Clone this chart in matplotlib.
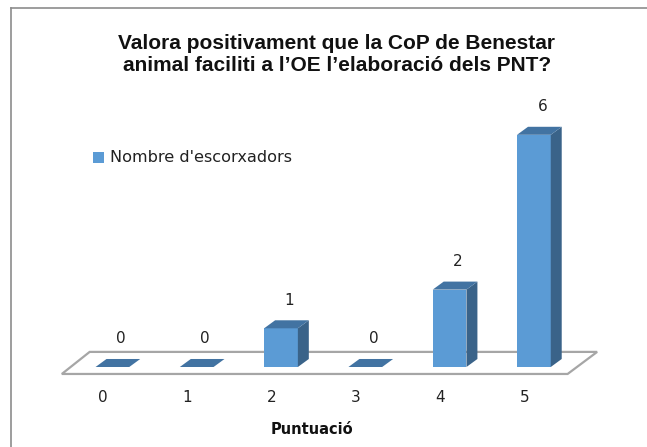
import numpy as np
import matplotlib.pyplot as plt
from matplotlib.patches import Polygon, Rectangle
from matplotlib.lines import Line2D

categories = ["0", "1", "2", "3", "4", "5"]
counts = [0, 0, 1, 0, 2, 6]
series_name = "Nombre d'escorxadors"
title = "Valora positivament que la CoP de Benestar\nanimal faciliti a l\u2019OE l\u2019elaboració dels PNT?"
xlabel = "Puntuació"

front_col = "#5b9bd5"
top_col = "#4273a2"
side_col = "#3a6389"
floor_edge = "#a6a6a6"

W, H, DPI = 647, 447, 100
fig = plt.figure(figsize=(W / DPI, H / DPI), dpi=DPI)
ax = fig.add_axes([0.0, 0.0, 1.0, 1.0])
ax.set_axis_off()

# scale: one category ~84 px, one count ~38.7 px
ax.set_xlim(-112.4 / 84.3, (W - 112.4) / 84.3)
ax.set_ylim(-80 / 38.7, (H - 80) / 38.7)

n = len(categories)
x = np.arange(n)
bw = 0.40        # bar width
ddx, ddy = 0.13, 0.207   # fake 3d depth offset

# floor
fx0, fx1 = -0.6, n - 0.6
floor = Polygon([(fx0, -0.18), (fx1, -0.18), (fx1 + 0.35, 0.39), (fx0 + 0.33, 0.39)],
                closed=True, facecolor="white", edgecolor=floor_edge, lw=1.6, zorder=1)
ax.add_patch(floor)

for xi, v in zip(x, counts):
    l, r = xi - bw / 2, xi + bw / 2
    top = [(l, v), (r, v), (r + ddx, v + ddy), (l + ddx, v + ddy)]
    if v > 0:
        ax.add_patch(Rectangle((l, 0), bw, v, facecolor=front_col, edgecolor="none", zorder=3))
        side = [(r, 0), (r + ddx, ddy), (r + ddx, v + ddy), (r, v)]
        ax.add_patch(Polygon(side, closed=True, facecolor=side_col, edgecolor="none", zorder=3))
    ax.add_patch(Polygon(top, closed=True, facecolor=top_col, edgecolor="none", zorder=3))
    ax.annotate(str(v), (xi + 0.1, v + ddy), xytext=(0, 9), textcoords="offset points",
                ha="center", va="bottom", fontsize=11, color="#222222", zorder=4)
    ax.text(xi - 0.11, -0.80, categories[xi], ha="center", va="center",
            fontsize=11, color="#222222")

ax.text((312 - 112.4) / 84.3, (H - 429 - 80) / 38.7, xlabel, ha="center", va="center",
        fontsize=10.5, fontweight="bold", color="#111111")

fig.text(337 / W, 1 - 54.5 / H, title, ha="center", va="center", fontsize=15,
         fontweight="bold", color="#111111", linespacing=1.25, family="Liberation Sans")

# legend
fig.patches.append(Rectangle((93 / W, 1 - 163 / H), 11 / W, 11 / H, transform=fig.transFigure,
                             facecolor=front_col, edgecolor="none"))
fig.text(110 / W, 1 - 158 / H, series_name, ha="left", va="center", fontsize=11.6, color="#222222")

# chart border (cut off at right and bottom)
fig.add_artist(Line2D([11 / W, 11 / W], [0, 1 - 8 / H], color="#8c8c8c", lw=1.2,
                      transform=fig.transFigure))
fig.add_artist(Line2D([11 / W, 1], [1 - 8 / H, 1 - 8 / H], color="#8c8c8c", lw=1.2,
                      transform=fig.transFigure))

fig.savefig("out.png", dpi=DPI, facecolor="white")
